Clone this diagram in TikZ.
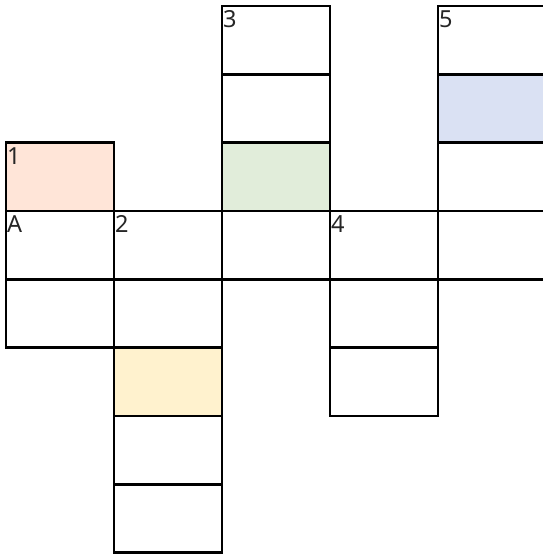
\documentclass[tikz,border=0pt]{standalone}
\usepackage{fontspec}
\setmainfont{Noto Sans}
\definecolor{cOrange}{RGB}{255,229,216}
\definecolor{cGreen}{RGB}{225,237,218}
\definecolor{cBlue}{RGB}{218,225,243}
\definecolor{cYellow}{RGB}{255,242,206}
\tikzset{
  cellbox/.style={draw=black, line width=2.4pt, rectangle, inner sep=0pt, outer sep=0pt,
    minimum width=108pt, minimum height=68.33pt},
  lbl/.style={anchor=base west, inner sep=0pt, font=\fontsize{23.5}{23.5}\selectfont, text=black!85}
}
\newcommand{\cellat}[4]{%
  \node[cellbox, fill=#4] (#1) at ({6+108*#2+54},{6+68.33*#3+34.165}) {};}
\begin{document}
\begin{tikzpicture}[x=1pt,y=-1pt]
\useasboundingbox (0,0) rectangle (543,554);
% column 0
\cellat{c02}{0}{2}{cOrange}
\cellat{c03}{0}{3}{white}
\cellat{c04}{0}{4}{white}
% column 1
\cellat{c13}{1}{3}{white}
\cellat{c14}{1}{4}{white}
\cellat{c15}{1}{5}{cYellow}
\cellat{c16}{1}{6}{white}
\cellat{c17}{1}{7}{white}
% column 2
\cellat{c20}{2}{0}{white}
\cellat{c21}{2}{1}{white}
\cellat{c22}{2}{2}{cGreen}
\cellat{c23}{2}{3}{white}
% column 3
\cellat{c33}{3}{3}{white}
\cellat{c34}{3}{4}{white}
\cellat{c35}{3}{5}{white}
% column 4
\cellat{c40}{4}{0}{white}
\cellat{c41}{4}{1}{cBlue}
\cellat{c42}{4}{2}{white}
\cellat{c43}{4}{3}{white}
% labels
\node[lbl] (l1) at ([shift={(1.0,21.5)}]c02.north west) {1};
\node[lbl] (lA) at ([shift={(1.0,21.5)}]c03.north west) {A};
\node[lbl] (l2) at ([shift={(1.0,21.5)}]c13.north west) {2};
\node[lbl] (l3) at ([shift={(1.0,21.5)}]c20.north west) {3};
\node[lbl] (l4) at ([shift={(1.0,21.5)}]c33.north west) {4};
\node[lbl] (l5) at ([shift={(1.0,21.5)}]c40.north west) {5};
\end{tikzpicture}
\end{document}
